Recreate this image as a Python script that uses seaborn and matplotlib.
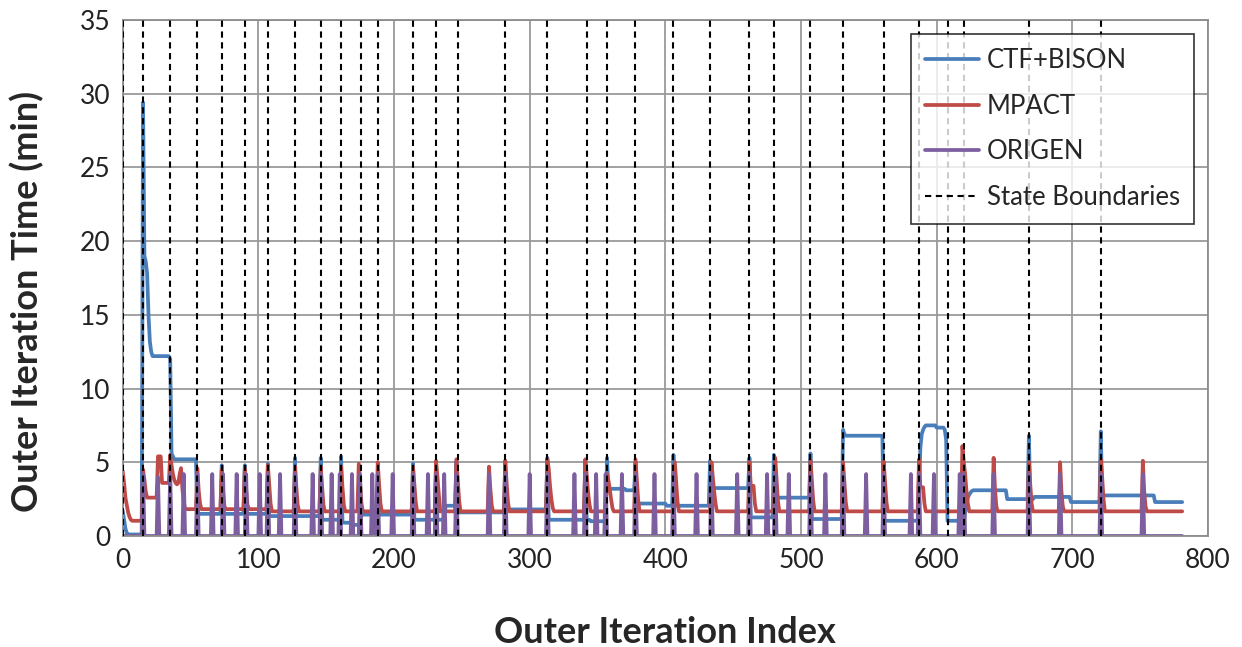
import numpy as np
import pandas as pd
import matplotlib
matplotlib.use("Agg")
import matplotlib.pyplot as plt
from matplotlib.lines import Line2D
import seaborn as sns

# ---------------- data ----------------
n_iter = 782
state_boundaries = [0, 15, 35, 55, 73, 90, 107, 127, 146, 161, 176, 188, 214, 231,
                    247, 282, 313, 342, 357, 378, 406, 433, 462, 480, 507, 531, 561,
                    587, 608, 620, 668, 721]

# CTF+BISON: level of each plateau (segment start index -> level)
ctf_seg_start = [0, 15, 36, 55, 107, 146, 162, 169, 176, 214, 238, 246, 282, 313,
                 345, 357, 371, 378, 401, 433, 462, 480, 507, 531, 561, 587, 600,
                 608, 621, 652, 672, 699, 722, 761]
ctf_seg_level = [0.1, 12.2, 5.2, 1.5, 1.35, 1.1, 0.9, 0.75, 1.45, 1.1, 2.05, 1.6, 1.8, 1.1,
                 1.0, 3.2, 3.1, 2.2, 2.05, 3.25, 1.26, 2.6, 1.15, 6.8, 1.03, 7.5, 7.35,
                 1.03, 3.1, 2.5, 2.65, 2.3, 2.75, 2.3]
# CTF+BISON: individual iterations that depart from the plateau
ctf_pt_idx = [0, 1, 2, 3, 15, 16, 17, 18, 19, 20, 21, 35, 36, 37,
              73, 90, 107, 127, 146, 161, 214, 231, 246, 282, 313, 341, 357, 378,
              406, 433, 462, 480, 507, 531, 532, 587, 588, 589, 590, 591, 606, 607,
              621, 622, 623, 624, 625, 626, 668, 721]
ctf_pt_val = [1.7, 1.1, 0.5, 0.2, 29.4, 19.0, 18.6, 17.8, 15.0, 13.2, 12.5, 12.0, 5.6, 5.4,
              4.8, 4.8, 4.9, 5.3, 5.3, 5.4, 4.9, 5.0, 5.1, 5.1, 5.3, 5.0, 5.3, 5.0,
              5.5, 5.1, 5.3, 5.5, 5.6, 7.2, 6.9, 3.0, 6.0, 6.9, 7.2, 7.4, 7.2, 6.5,
              1.6, 2.2, 2.6, 2.8, 2.95, 3.05, 6.8, 7.1]

# MPACT: plateau levels
mpact_seg_start = [0, 15, 26, 29, 46, 108]
mpact_seg_level = [1.03, 2.6, 5.4, 3.6, 1.82, 1.67]
# MPACT: single iterations departing from plateau
mpact_pt_idx = [0, 1, 2, 3, 4, 5, 6, 15, 16, 17,
                35, 36, 37, 38, 39, 40, 41, 42, 43, 44, 45]
mpact_pt_val = [4.4, 3.6, 2.6, 2.1, 1.6, 1.3, 1.1, 4.5, 3.8, 3.0,
                5.5, 4.8, 4.2, 3.8, 3.6, 3.5, 3.6, 4.2, 4.6, 3.2, 2.3]
# MPACT: peaks at state changes (peak, then the following iterations)
mpact_peak_idx = [55, 73, 90, 107, 127, 146, 161, 174, 188, 214, 231, 246, 270, 282,
                  313, 341, 357, 378, 407, 434, 462, 481, 507, 531, 561, 587, 619,
                  642, 668, 691, 721, 752]
mpact_peak_vals = [[4.6, 3.1, 2.2], [4.5, 3.0, 2.0], [4.6, 3.2, 2.1], [4.8, 3.5, 2.2],
                   [4.7, 3.3, 2.1], [4.7, 3.3, 2.1], [4.7, 3.3, 2.1], [4.9, 3.5, 2.2],
                   [5.0, 3.5, 2.2], [4.7, 3.5, 2.3], [5.1, 4.0, 2.8], [5.2, 3.8, 2.4],
                   [4.7, 3.2, 2.1], [5.1, 3.6, 2.3], [5.2, 4.6, 3.4, 2.5, 1.9],
                   [5.2, 4.2, 3.0, 2.2], [4.2, 3.8, 3.2, 2.5, 1.9], [5.2, 3.8, 2.4],
                   [5.0, 3.6, 2.3], [5.0, 4.0, 3.0, 2.2], [5.0, 3.4, 3.4, 3.4, 2.2],
                   [5.3, 3.8, 2.4], [5.2, 3.8, 2.4], [5.0, 3.6, 2.3], [5.05, 3.6, 2.3],
                   [5.2, 3.3, 3.3, 3.3, 2.2], [6.1, 5.0, 4.2, 3.0, 2.2],
                   [5.3, 3.2, 2.0], [5.0, 3.5, 2.2], [5.0, 3.0, 2.0], [5.2, 4.0, 2.5],
                   [5.1, 3.0, 2.0]]

# ORIGEN: zero except at depletion steps
origen_idx = [15, 26, 35, 45, 55, 66, 74, 84, 91, 101, 107, 116, 127, 140, 146, 154,
              160, 169, 175, 184, 188, 199, 214, 225, 231, 237, 246, 270, 282, 300,
              313, 333, 341, 349, 356, 368, 378, 392, 406, 423, 434, 453, 462, 475,
              481, 491, 507, 518, 531, 548, 561, 581, 587, 598, 617, 620, 642, 668,
              691, 721, 752]
origen_val = [4.2, 4.0, 4.2, 4.2, 4.2, 4.2, 4.2, 4.2, 4.2, 4.2, 4.2, 4.2, 4.2, 4.2, 4.2, 4.2,
              4.2, 4.2, 4.2, 4.2, 4.2, 4.2, 4.2, 4.2, 4.2, 4.2, 4.2, 4.2, 4.2, 4.2,
              4.2, 4.2, 4.2, 4.2, 4.2, 4.2, 4.2, 4.2, 4.2, 4.2, 4.2, 4.2, 4.2, 4.2,
              4.2, 4.2, 4.2, 4.2, 4.2, 4.2, 4.2, 4.2, 4.2, 4.2, 4.2, 4.2, 4.2, 4.2,
              4.2, 4.2, 4.2]

series_names = ["CTF+BISON", "MPACT", "ORIGEN"]
series_colors = ["#4A7EBB", "#BE4B48", "#7D5FA0"]
x_ticks = [0, 100, 200, 300, 400, 500, 600, 700, 800]
y_ticks = [0, 5, 10, 15, 20, 25, 30, 35]

# ---------------- assemble per-iteration series ----------------
def from_plateaus(starts, levels):
    arr = np.zeros(n_iter)
    for s, lv in zip(starts, levels):
        arr[s:] = lv
    return arr

ctf = from_plateaus(ctf_seg_start, ctf_seg_level)
ctf[ctf_pt_idx] = ctf_pt_val

mpact = from_plateaus(mpact_seg_start, mpact_seg_level)
mpact[mpact_pt_idx] = mpact_pt_val
for p, vals in zip(mpact_peak_idx, mpact_peak_vals):
    mpact[p:p + len(vals)] = vals

origen = np.zeros(n_iter)
origen[origen_idx] = origen_val

iters = np.arange(n_iter)
df = pd.DataFrame({
    "iter": np.concatenate([iters, iters, iters]),
    "time": np.concatenate([ctf, mpact, origen]),
    "code": np.repeat(series_names, n_iter),
})

# ---------------- plot ----------------
sns.set_theme(style="white")
plt.rcParams["font.family"] = ["Lato", "DejaVu Sans"]

fig = plt.figure(figsize=(12.42, 6.47), dpi=100)
ax = fig.add_axes([0.0988, 0.1716, 0.8738, 0.7975])

sns.lineplot(data=df, x="iter", y="time", hue="code",
             palette=dict(zip(series_names, series_colors)),
             linewidth=2.7, estimator=None, sort=False, legend=False, ax=ax)

for b in state_boundaries:
    ax.axvline(b, color="black", linestyle=(0, (3.0, 2.2)), linewidth=1.5, zorder=5)

ax.set_xlim(0, 800)
ax.set_ylim(0, 35)
ax.set_xticks(x_ticks)
ax.set_yticks(y_ticks)
ax.grid(True, color="#9a9a9a", linewidth=1.3)
ax.set_axisbelow(True)
for sp in ax.spines.values():
    sp.set_color("#8c8c8c")
    sp.set_linewidth(1.3)
ax.tick_params(axis="both", length=0, labelsize=19, colors="#222222", pad=9)

ax.set_xlabel("Outer Iteration Index", fontsize=26, fontweight="bold")
ax.set_ylabel("Outer Iteration Time (min)", fontsize=26, fontweight="bold")
ax.xaxis.set_label_coords(0.5, -0.155)
ax.yaxis.set_label_coords(-0.072, 0.455)

handles = [Line2D([], [], color=c, lw=2.7) for c in series_colors]
handles.append(Line2D([], [], color="black", lw=1.5, linestyle=(0, (3.0, 2.2))))
leg = ax.legend(handles, series_names + ["State Boundaries"], loc="upper right",
                fontsize=18.5, frameon=True, fancybox=False, handlelength=2.1,
                labelspacing=0.8, borderpad=0.55, handletextpad=0.3,
                borderaxespad=0.55)
leg.get_frame().set_edgecolor("black")
leg.get_frame().set_linewidth(1.2)
leg.set_zorder(10)

fig.savefig("out.png", dpi=100)
